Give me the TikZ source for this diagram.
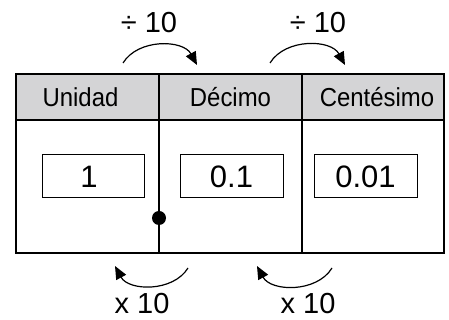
\documentclass[tikz,border=0pt]{standalone}
\usepackage{fontspec}
\setmainfont{Liberation Sans}
\newfontfamily\hdrfont{Liberation Sans}[FakeStretch=0.92]
\usepackage{tikz}
\usetikzlibrary{positioning,arrows.meta}
\definecolor{hdrgray}{RGB}{212,212,214}

\tikzset{
  hdrcell/.style={draw,line width=1.3pt,fill=hdrgray,minimum width=143pt,minimum height=46pt,inner sep=0pt,font=\hdrfont\fontsize{26}{28}\selectfont},
  bodycell/.style={draw,line width=1.3pt,minimum width=143pt,minimum height=133pt,inner sep=0pt},
  valbox/.style={draw,line width=1pt,minimum width=102pt,minimum height=43pt,inner sep=0pt,font=\fontsize{31}{34}\selectfont},
  oplabel/.style={font=\fontsize{29}{31}\selectfont,inner sep=0pt},
  jump/.style={line width=1.2pt,-{Triangle[length=13pt,width=11pt]},bend left=60}
}

\begin{document}
\begin{tikzpicture}[x=1pt,y=1pt]
  \useasboundingbox (0,0) rectangle (449,320);
  % place value table
  \node[hdrcell] (hunidad) at (87.5,223) {\hspace*{-14pt}Unidad};
  \node[hdrcell] (hdecimo) at (230.5,223) {Décimo};
  \node[hdrcell,minimum width=142pt] (hcentesimo) at (373,223) {\hspace*{8pt}Centésimo};
  \node[bodycell] (bunidad) at (87.5,133.5) {};
  \node[bodycell] (bdecimo) at (230.5,133.5) {};
  \node[bodycell,minimum width=142pt] (bcentesimo) at (373,133.5) {};
  % values
  \node[valbox] (vunidad) at (93,143.5) {\hspace*{-8pt}1};
  \node[valbox,minimum width=103pt] (vdecimo) at (231.5,143.5) {0.1};
  \node[valbox,minimum width=103pt] (vcentesimo) at (365.5,143.5) {0.01};
  % decimal point
  \node[circle,fill,inner sep=0pt,minimum size=14pt] (punto) at (159,102) {};
  % divide arrows
  \coordinate (d1s) at (123,257);
  \coordinate (d1e) at (197,255);
  \coordinate (d2s) at (270,257);
  \coordinate (d2e) at (345,255);
  \draw[jump] (d1s) to (d1e);
  \draw[jump] (d2s) to (d2e);
  \node[oplabel] (div1) at (149,297) {÷ 10};
  \node[oplabel] (div2) at (318,297) {÷ 10};
  % multiply arrows
  \coordinate (m1s) at (188,52);
  \coordinate (m1e) at (115,54);
  \coordinate (m2s) at (332,52);
  \coordinate (m2e) at (257,54);
  \draw[jump] (m1s) to (m1e);
  \draw[jump] (m2s) to (m2e);
  \node[oplabel] (mul1) at (142,16) {x 10};
  \node[oplabel] (mul2) at (308,16) {x 10};
\end{tikzpicture}
\end{document}
